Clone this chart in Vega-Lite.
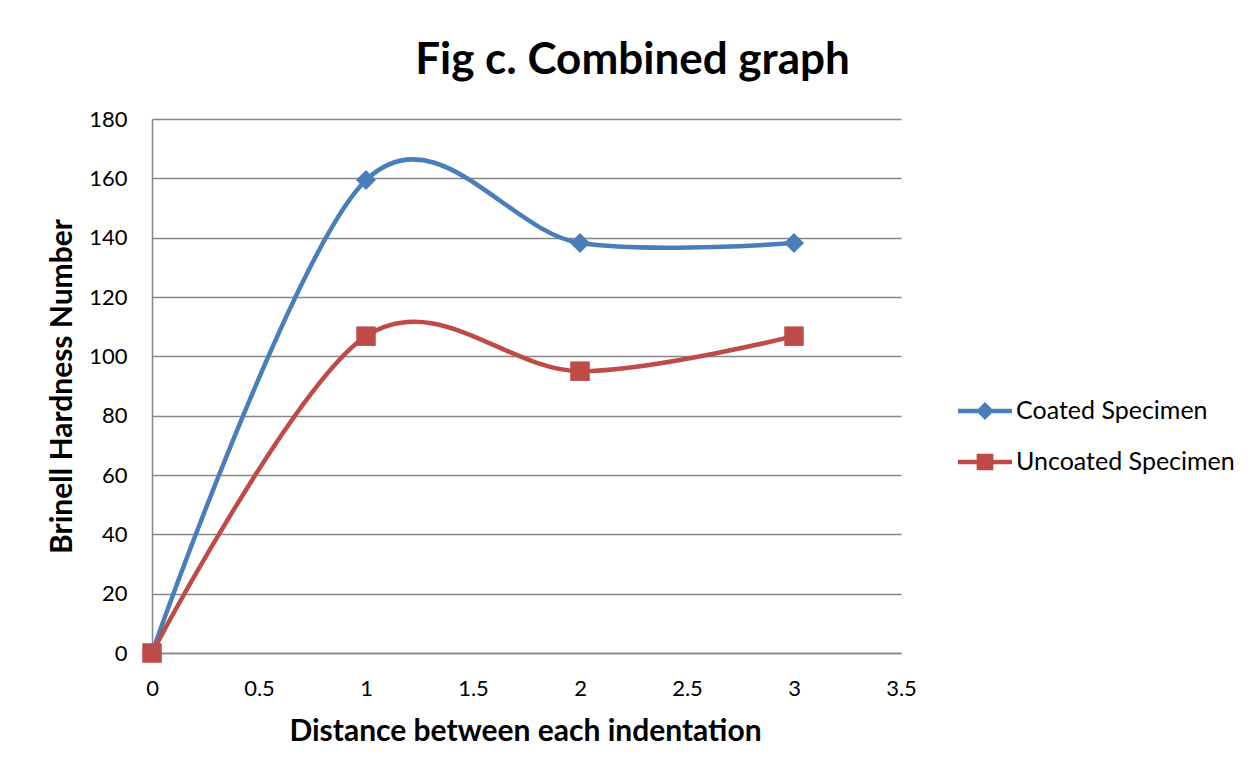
{
  "$schema": "https://vega.github.io/schema/vega-lite/v6.json",
  "width": 749,
  "height": 534,
  "autosize": {"type": "none"},
  "padding": {"left": 152, "top": 119, "right": 352, "bottom": 125},
  "background": "white",
  "title": {
    "text": "Fig c. Combined graph",
    "font": "Lato",
    "fontSize": 44,
    "fontWeight": "bold",
    "color": "black",
    "anchor": "middle",
    "baseline": "alphabetic",
    "offset": -10,
    "dx": 106
  },
  "data": {
    "values": [
      {"distance": 0, "bhn": 0, "series": "Coated Specimen"},
      {"distance": 1, "bhn": 159.4, "series": "Coated Specimen"},
      {"distance": 2, "bhn": 138.2, "series": "Coated Specimen"},
      {"distance": 3, "bhn": 138.2, "series": "Coated Specimen"},
      {"distance": 0, "bhn": 0, "series": "Uncoated Specimen"},
      {"distance": 1, "bhn": 106.8, "series": "Uncoated Specimen"},
      {"distance": 2, "bhn": 95.0, "series": "Uncoated Specimen"},
      {"distance": 3, "bhn": 106.8, "series": "Uncoated Specimen"}
    ]
  },
  "encoding": {
    "x": {
      "field": "distance",
      "type": "quantitative",
      "scale": {"domain": [0, 3.5], "nice": false, "zero": false},
      "axis": {
        "title": "Distance between each indentation",
        "values": [0, 0.5, 1, 1.5, 2, 2.5, 3, 3.5],
        "format": "~g",
        "grid": false,
        "ticks": false,
        "labelFlush": false,
        "domainColor": "#868686",
        "domainWidth": 1.5,
        "labelFont": "Lato",
        "labelFontSize": 22,
        "labelColor": "black",
        "labelPadding": 25,
        "titleFont": "Lato",
        "titleFontSize": 30,
        "titleFontWeight": "bold",
        "titleColor": "black",
        "titleX": 373,
        "titleY": 78,
        "titleBaseline": "middle",
        "titleAlign": "center"
      }
    },
    "y": {
      "field": "bhn",
      "type": "quantitative",
      "scale": {"domain": [0, 180], "nice": false},
      "axis": {
        "title": "Brinell Hardness Number",
        "values": [0, 20, 40, 60, 80, 100, 120, 140, 160, 180],
        "grid": true,
        "gridColor": "#868686",
        "gridWidth": 1.5,
        "gridOpacity": 1,
        "ticks": false,
        "labelFlush": false,
        "domainColor": "#868686",
        "domainWidth": 1.5,
        "labelFont": "Lato",
        "labelFontSize": 22,
        "labelColor": "black",
        "labelPadding": 25,
        "titleFont": "Lato",
        "titleFontSize": 30,
        "titleFontWeight": "bold",
        "titleColor": "black",
        "titleAngle": -90,
        "titleX": -90,
        "titleY": 267,
        "titleBaseline": "middle",
        "titleAlign": "center"
      }
    },
    "color": {
      "field": "series",
      "type": "nominal",
      "scale": {
        "domain": ["Coated Specimen", "Uncoated Specimen"],
        "range": ["#4A7EBB", "#BE4B48"]
      },
      "legend": {
        "title": null,
        "orient": "none",
        "legendX": 806,
        "legendY": 265,
        "padding": 0,
        "symbolSize": 2916,
        "rowPadding": 11,
        "labelOffset": 4,
        "labelLimit": 400,
        "labelFont": "Lato",
        "labelFontSize": 25,
        "labelColor": "black",
        "encode": {
          "symbols": {
            "update": {
              "shape": {"signal": "datum.value === 'Coated Specimen' ? 'M-1,-0.08L1,-0.08L1,0.08L-1,0.08Z M0,-0.33L0.33,0L0,0.33L-0.33,0Z' : 'M-1,-0.08L1,-0.08L1,0.08L-1,0.08Z M-0.31,-0.31L0.31,-0.31L0.31,0.31L-0.31,0.31Z'"},
              "fill": {"signal": "datum.value === 'Coated Specimen' ? '#4A7EBB' : '#BE4B48'"},
              "fillOpacity": {"value": 1},
              "opacity": {"value": 1},
              "strokeWidth": {"value": 0}
            }
          }
        }
      }
    }
  },
  "layer": [
    {
      "mark": {"type": "line", "interpolate": "cardinal", "strokeWidth": 4.5}
    },
    {
      "transform": [{"filter": "datum.series === 'Coated Specimen'"}],
      "mark": {"type": "point", "shape": "diamond", "filled": true, "opacity": 1, "strokeWidth": 0, "size": 400}
    },
    {
      "transform": [{"filter": "datum.series === 'Uncoated Specimen'"}],
      "mark": {"type": "point", "shape": "square", "filled": true, "opacity": 1, "strokeWidth": 0, "size": 380}
    }
  ],
  "config": {
    "view": {"stroke": null}
  }
}
